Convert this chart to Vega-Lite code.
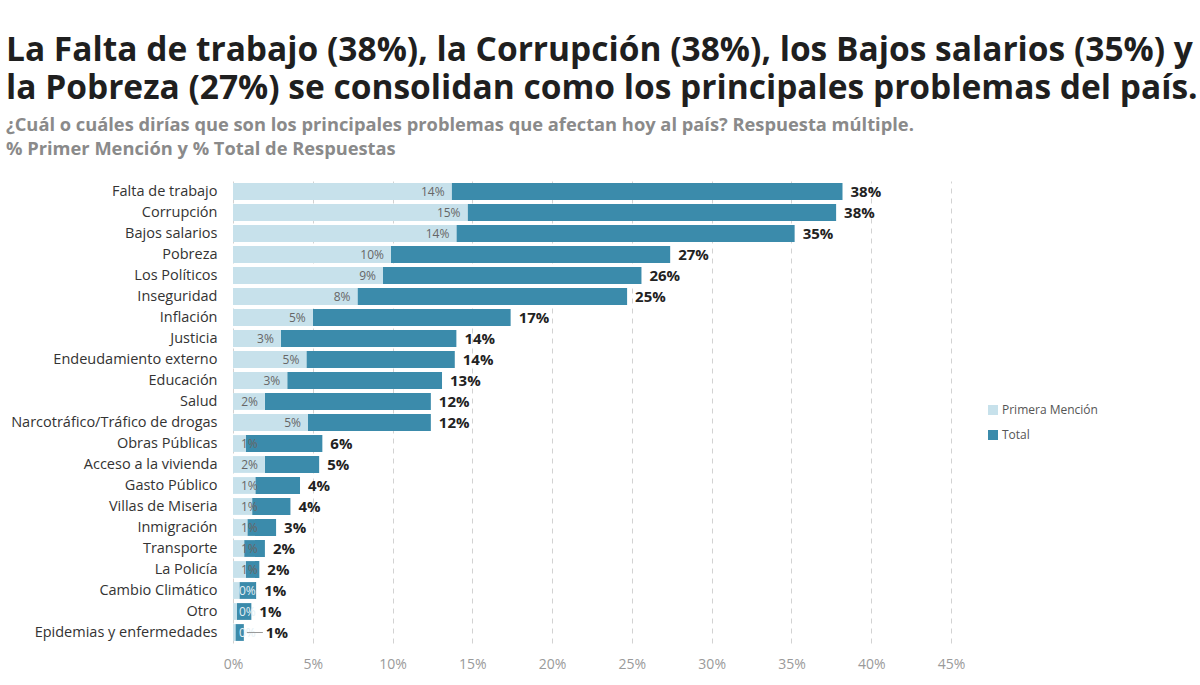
{
  "$schema": "https://vega.github.io/schema/vega-lite/v6.json",
  "autosize": {"type": "none"},
  "padding": {"left": 233, "top": 181, "right": 249, "bottom": 42},
  "width": 718,
  "height": 462,
  "background": "white",
  "title": {
    "text": [
      "La Falta de trabajo (38%), la Corrupción (38%), los Bajos salarios (35%) y",
      "la Pobreza (27%) se consolidan como los principales problemas del país."
    ],
    "subtitle": [
      "¿Cuál o cuáles dirías que son los principales problemas que afectan hoy al país? Respuesta múltiple.",
      "% Primer Mención y % Total de Respuestas"
    ],
    "anchor": "start",
    "frame": "group",
    "dx": -227,
    "offset": 22,
    "font": "Open Sans",
    "fontSize": 33.5,
    "fontWeight": "bold",
    "color": "#1f1f1f",
    "lineHeight": 38,
    "subtitleFont": "Open Sans",
    "subtitleFontSize": 18.3,
    "subtitleFontWeight": "bold",
    "subtitleColor": "#8a8a8a",
    "subtitleLineHeight": 24,
    "subtitlePadding": 10
  },
  "data": {
    "values": [
      {"problema": "Falta de trabajo", "primera": 0.137, "total": 0.382},
      {"problema": "Corrupción", "primera": 0.147, "total": 0.378},
      {"problema": "Bajos salarios", "primera": 0.140, "total": 0.352},
      {"problema": "Pobreza", "primera": 0.099, "total": 0.274},
      {"problema": "Los Políticos", "primera": 0.094, "total": 0.256},
      {"problema": "Inseguridad", "primera": 0.078, "total": 0.247},
      {"problema": "Inflación", "primera": 0.050, "total": 0.174},
      {"problema": "Justicia", "primera": 0.030, "total": 0.140},
      {"problema": "Endeudamiento externo", "primera": 0.046, "total": 0.139},
      {"problema": "Educación", "primera": 0.034, "total": 0.131},
      {"problema": "Salud", "primera": 0.020, "total": 0.124},
      {"problema": "Narcotráfico/Tráfico de drogas", "primera": 0.047, "total": 0.124},
      {"problema": "Obras Públicas", "primera": 0.008, "total": 0.056},
      {"problema": "Acceso a la vivienda", "primera": 0.020, "total": 0.054},
      {"problema": "Gasto Público", "primera": 0.014, "total": 0.042},
      {"problema": "Villas de Miseria", "primera": 0.012, "total": 0.036},
      {"problema": "Inmigración", "primera": 0.009, "total": 0.027},
      {"problema": "Transporte", "primera": 0.007, "total": 0.020},
      {"problema": "La Policía", "primera": 0.008, "total": 0.0165},
      {"problema": "Cambio Climático", "primera": 0.004, "total": 0.0145},
      {"problema": "Otro", "primera": 0.0025, "total": 0.0115},
      {"problema": "Epidemias y enfermedades", "primera": 0.0015, "total": 0.0068}
    ]
  },
  "encoding": {
    "y": {
      "field": "problema",
      "type": "nominal",
      "sort": null,
      "scale": {"paddingInner": 0.2, "paddingOuter": 0.1},
      "axis": {
        "title": null,
        "domain": false,
        "ticks": false,
        "labelPadding": 16,
        "labelFont": "Open Sans",
        "labelFontSize": 14.5,
        "labelColor": "#333333",
        "labelLimit": 300
      }
    }
  },
  "layer": [
    {
      "mark": {"type": "bar"},
      "encoding": {
        "x": {
          "field": "primera",
          "type": "quantitative",
          "scale": {"domain": [0, 0.45], "nice": false},
          "axis": {
            "title": null,
            "format": ".0%",
            "values": [0, 0.05, 0.1, 0.15, 0.2, 0.25, 0.3, 0.35, 0.4, 0.45],
            "domain": false,
            "ticks": false,
            "grid": true,
            "gridDash": [5, 5],
            "gridColor": "#d2d2d2",
            "gridWidth": 1,
            "labelFlush": false,
            "labelPadding": 14,
            "labelFont": "Open Sans",
            "labelFontSize": 14,
            "labelColor": "#9a9a9a"
          }
        },
        "x2": {"field": "total"},
        "color": {
          "datum": "Total",
          "type": "nominal",
          "scale": {"domain": ["Primera Mención", "Total"], "range": ["#c7e1eb", "#3b8bab"]},
          "legend": {
            "title": null,
            "orient": "none",
            "legendX": 754,
            "legendY": 223,
            "symbolType": "square",
            "symbolSize": 100,
            "symbolStrokeWidth": 0,
            "labelFont": "Open Sans",
            "labelFontSize": 12,
            "labelColor": "#555555",
            "labelOffset": 3,
            "rowPadding": 13
          }
        }
      }
    },
    {
      "mark": {"type": "bar"},
      "encoding": {
        "x": {"field": "primera", "type": "quantitative"},
        "color": {"datum": "Primera Mención", "type": "nominal"}
      }
    },
    {
      "transform": [{"filter": "datum.primera >= 0.018"}],
      "mark": {"type": "text", "align": "right", "baseline": "middle", "dx": -7, "font": "Open Sans", "fontSize": 12, "color": "#666666"},
      "encoding": {
        "x": {"field": "primera", "type": "quantitative"},
        "text": {"field": "primera", "type": "quantitative", "format": ".0%"}
      }
    },
    {
      "transform": [{"filter": "datum.primera < 0.018 && datum.primera >= 0.005"}],
      "mark": {"type": "text", "align": "left", "baseline": "middle", "dx": 8, "font": "Open Sans", "fontSize": 12, "color": "#666666"},
      "encoding": {
        "x": {"datum": 0, "type": "quantitative"},
        "text": {"field": "primera", "type": "quantitative", "format": ".0%"}
      }
    },
    {
      "transform": [{"filter": "datum.primera < 0.005"}],
      "mark": {"type": "text", "align": "left", "baseline": "middle", "dx": 6, "font": "Open Sans", "fontSize": 12, "color": "#e4f0f5"},
      "encoding": {
        "x": {"datum": 0, "type": "quantitative"},
        "text": {"field": "primera", "type": "quantitative", "format": ".0%"}
      }
    },
    {
      "transform": [{"filter": "datum.total >= 0.008"}],
      "mark": {"type": "text", "align": "left", "baseline": "middle", "dx": 8, "font": "Open Sans", "fontSize": 15, "fontWeight": "bold", "color": "#222222"},
      "encoding": {
        "x": {"field": "total", "type": "quantitative"},
        "text": {"field": "total", "type": "quantitative", "format": ".0%"}
      }
    },
    {
      "transform": [{"filter": "datum.total < 0.008"}],
      "mark": {"type": "text", "align": "left", "baseline": "middle", "dx": 22, "font": "Open Sans", "fontSize": 15, "fontWeight": "bold", "color": "#222222"},
      "encoding": {
        "x": {"field": "total", "type": "quantitative"},
        "text": {"field": "total", "type": "quantitative", "format": ".0%"}
      }
    },
    {
      "transform": [{"filter": "datum.total < 0.008"}],
      "mark": {"type": "rule", "xOffset": 3, "x2Offset": 19, "color": "#9a9a9a", "strokeWidth": 1},
      "encoding": {
        "x": {"field": "total", "type": "quantitative"},
        "x2": {"field": "total"}
      }
    }
  ],
  "config": {
    "view": {"stroke": null}
  }
}
